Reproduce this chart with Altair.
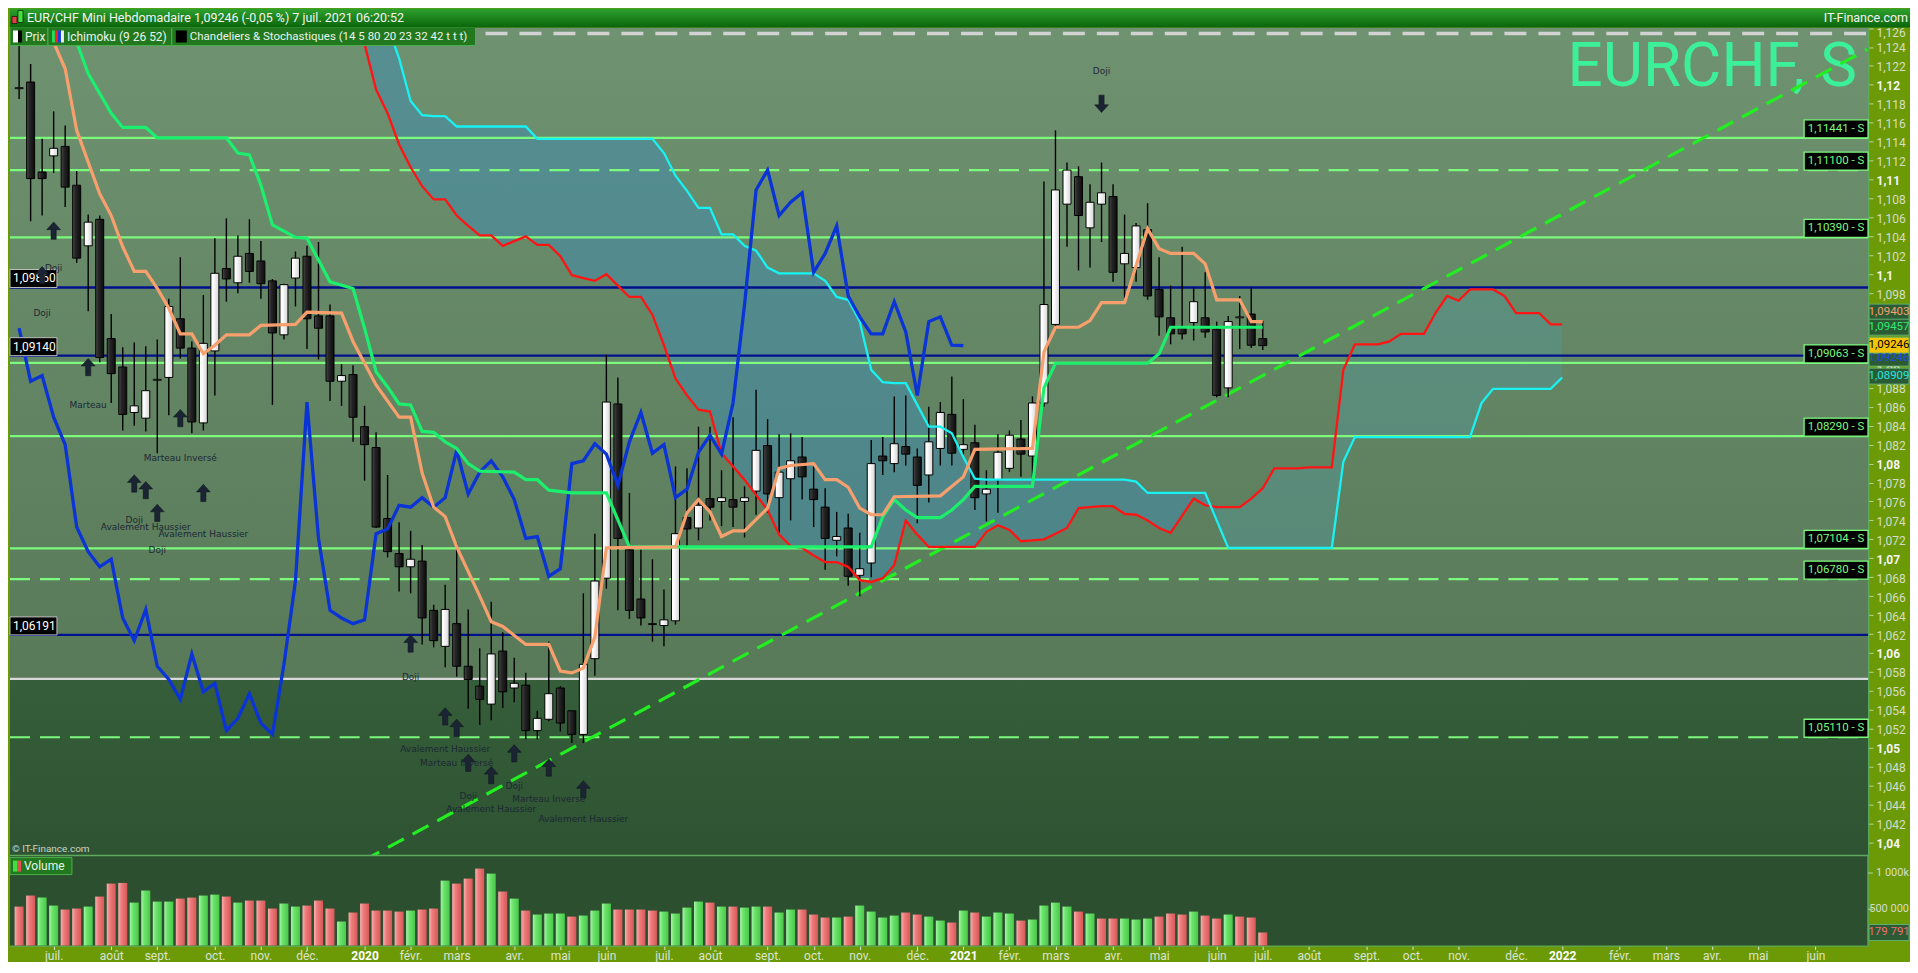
import altair as alt
import pandas as pd

# ------------------------------------------------------------------
# Values
# ------------------------------------------------------------------
START = pd.Timestamp("2019-06-10")          # Monday of the first weekly candle

opens = [1.1196,1.1203,1.1108,1.1125,1.1135,1.1094,1.1030,1.1058,1.0932,1.0902,
         1.0854,1.0848,1.0888,1.0891,1.0953,1.0922,1.0843,1.0919,1.1006,1.0991,
         1.1022,1.1014,1.0993,1.0936,1.0996,1.1019,1.0956,1.0956,1.0887,1.0894,
         1.0839,1.0817,1.0742,1.0705,1.0691,1.0697,1.0645,1.0607,1.0631,1.0586,
         1.0565,1.0546,1.0602,1.0563,1.0566,1.0518,1.0530,1.0563,1.0539,1.0514,
         1.0594,1.0679,1.0863,1.0709,1.0657,1.0630,1.0629,1.0634,1.0743,1.0732,
         1.0763,1.0760,1.0762,1.0760,1.0771,1.0819,1.0764,1.0784,1.0807,1.0773,
         1.0754,1.0719,1.0732,1.0682,1.0695,1.0808,1.0800,1.0818,1.0807,1.0788,
         1.0816,1.0852,1.0815,1.0822,1.0768,1.0783,1.0795,1.0826,1.0808,1.0864,
         1.0947,1.1074,1.1103,1.1049,1.1074,1.1082,1.1011,1.1007,1.1047,1.0984,
         1.0954,1.0943,1.0949,1.0954,1.0942,1.0880,1.0954,1.0958,1.0932]
highs = [1.1254,1.1222,1.1143,1.1172,1.1157,1.1109,1.1063,1.1062,1.0958,1.0923,
         1.0928,1.0924,1.0931,1.0974,1.1018,1.0929,1.0978,1.1038,1.1059,1.1041,
         1.1058,1.1035,1.0995,1.0990,1.1024,1.1030,1.1034,1.0968,1.0905,1.0904,
         1.0861,1.0833,1.0788,1.0738,1.0729,1.0714,1.0651,1.0672,1.0716,1.0646,
         1.0605,1.0654,1.0622,1.0595,1.0579,1.0539,1.0612,1.0565,1.0539,1.0663,
         1.0726,1.0915,1.0891,1.0769,1.0709,1.0699,1.0667,1.0797,1.0795,1.0839,
         1.0839,1.0793,1.0849,1.0776,1.0878,1.0847,1.0831,1.0832,1.0828,1.0797,
         1.0774,1.0749,1.0747,1.0727,1.0825,1.0828,1.0871,1.0872,1.0816,1.0860,
         1.0865,1.0892,1.0868,1.0841,1.0793,1.0831,1.0835,1.0846,1.0871,1.1098,
         1.1152,1.1118,1.1114,1.1095,1.1118,1.1095,1.1063,1.1054,1.1075,1.1018,
         1.0988,1.1029,1.0986,1.1002,1.0950,1.0956,1.0977,1.0986,1.0951]
lows = [1.1185,1.1056,1.1062,1.1107,1.1071,1.1012,1.0961,1.0907,1.0864,1.0835,
        1.0840,1.0834,1.0811,1.0851,1.0911,1.0832,1.0835,1.0872,1.0971,1.0980,
        1.0991,1.0974,1.0862,1.0931,1.0966,1.0921,1.0910,1.0866,1.0861,1.0823,
        1.0782,1.0732,1.0701,1.0665,1.0663,1.0609,1.0606,1.0585,1.0575,1.0541,
        1.0524,1.0529,1.0542,1.0548,1.0509,1.0509,1.0528,1.0517,1.0505,1.0505,
        1.0576,1.0668,1.0645,1.0636,1.0629,1.0612,1.0607,1.0630,1.0712,1.0719,
        1.0740,1.0734,1.0733,1.0722,1.0746,1.0748,1.0727,1.0740,1.0762,1.0733,
        1.0688,1.0702,1.0671,1.0660,1.0680,1.0788,1.0791,1.0798,1.0737,1.0759,
        1.0798,1.0798,1.0809,1.0751,1.0739,1.0748,1.0791,1.0786,1.0786,1.0860,
        1.0941,1.1029,1.1004,1.1007,1.1034,1.0992,1.0974,1.0992,1.0973,1.0935,
        1.0926,1.0931,1.0930,1.0933,1.0870,1.0870,1.0921,1.0922,1.0920]
closes = [1.1197,1.1101,1.1101,1.1133,1.1092,1.1017,1.1055,1.0912,1.0895,1.0852,
          1.0861,1.0877,1.0889,1.0966,1.0922,1.0844,1.0927,1.1001,1.0995,1.1019,
          1.1003,1.0990,1.0938,1.0989,1.1017,1.0953,1.0943,1.0887,1.0893,1.0849,
          1.0820,1.0733,1.0707,1.0691,1.0699,1.0637,1.0613,1.0646,1.0586,1.0572,
          1.0551,1.0599,1.0559,1.0568,1.0518,1.0531,1.0557,1.0526,1.0514,1.0588,
          1.0676,1.0865,1.0721,1.0645,1.0637,1.0631,1.0635,1.0726,1.0731,1.0756,
          1.0754,1.0764,1.0754,1.0764,1.0814,1.0768,1.0791,1.0803,1.0786,1.0762,
          1.0721,1.0723,1.0681,1.0689,1.0800,1.0803,1.0821,1.0810,1.0777,1.0823,
          1.0854,1.0811,1.0820,1.0764,1.0773,1.0812,1.0830,1.0810,1.0864,1.0968,
          1.1089,1.1110,1.1062,1.1076,1.1086,1.1002,1.1022,1.1051,1.0977,1.0955,
          1.0937,1.0937,1.0971,1.0939,1.0872,1.0950,1.0955,1.0925,1.09246]

volumes_k = [537,689,661,551,496,510,537,675,854,863,
             592,758,606,606,647,661,689,702,675,592,
             620,620,510,579,537,551,620,510,331,455,
             579,482,482,468,482,496,510,895,854,923,
             1061,992,744,647,482,427,441,441,399,413,
             482,579,496,496,496,482,468,441,523,606,
             592,537,537,523,537,537,455,496,496,427,
             386,386,399,551,468,386,413,455,427,399,
             344,317,482,455,399,455,441,344,358,551,
             592,537,468,441,372,372,372,358,372,399,
             441,427,468,413,372,427,399,386,179.791]
volume_side = ["r","r","g","g","r","r","g","r","r","r",
               "g","g","g","g","r","r","g","g","r","g",
               "r","r","r","g","g","r","r","r","g","r",
               "r","r","r","r","g","r","r","g","r","r",
               "r","g","r","g","r","g","g","g","r","g",
               "g","g","r","r","r","r","g","g","g","g",
               "r","g","r","g","g","r","g","g","r","r",
               "r","g","r","g","g","g","g","r","r","g",
               "g","r","g","r","g","g","g","r","g","g",
               "g","g","r","g","r","r","g","g","g","r",
               "r","r","g","r","r","g","r","r","r"]

# Ichimoku (week index, value)
tenkan = [(0,1.1330),(1,1.1300),(2,1.1270),(3,1.1245),(4,1.1217),(5,1.1152),(7,1.1085),(8,1.1062),
          (9,1.1029),(10,1.1003),(11,1.1003),(12,1.0985),(13,1.0964),(14,1.0937),(15,1.0937),(16,1.0916),
          (17,1.0925),(18,1.0936),(20,1.0936),(21,1.0946),(24,1.0947),(25,1.0960),(28,1.0959),(29,1.0929),
          (31,1.0883),(33,1.0849),(34,1.0849),(35,1.0790),(36,1.0754),(37,1.0744),(38,1.0712),(40,1.0660),
          (41,1.0633),(42,1.0628),(44,1.0609),(46,1.0609),(47,1.0581),(48,1.0579),(49,1.0584),(50,1.0617),
          (51,1.0711),(57,1.0712),(58,1.0748),(59,1.0762),(60,1.0749),(61,1.0723),(62,1.0729),(63,1.0729),
          (65,1.0753),(66,1.0795),(67,1.0798),(69,1.0800),(70,1.0783),(71,1.0783),(72,1.0775),(73,1.0753),
          (74,1.0746),(75,1.0746),(76,1.0765),(80,1.0766),(82,1.0786),(83,1.0815),(88,1.0816),(89,1.0918),
          (90,1.0944),(92,1.0944),(93,1.0951),(94,1.0970),(96,1.0970),(98,1.1048),(99,1.1027),(100,1.1022),
          (102,1.1022),(103,1.1011),(104,1.0973),(106,1.0973),(107,1.0950),(108,1.0950)]
kijun = [(0,1.1360),(3,1.1298),(4,1.1271),(5,1.1245),(6,1.1212),(8,1.1170),(9,1.1155),(11,1.1155),
         (12,1.1144),(18,1.1144),(19,1.1128),(20,1.1126),(21,1.1094),(22,1.1052),(24,1.1039),(25,1.1038),
         (27,1.0992),(29,1.0985),(30,1.0943),(31,1.0897),(32,1.0881),(33,1.0863),(34,1.0862),(35,1.0834),
         (36,1.0833),(37,1.0823),(38,1.0816),(39,1.0800),(40,1.0792),(43,1.0791),(44,1.0783),(45,1.0783),
         (46,1.0772),(48,1.0769),(51,1.0769),(53,1.0712),(74,1.0712),(75,1.0744),(76,1.0762),(77,1.0751),
         (78,1.0743),(80,1.0743),(81,1.0751),(82,1.0762),(83,1.0776),(88,1.0776),(89,1.0880),(90,1.0906),
         (98,1.0906),(99,1.0916),(100,1.0944),(108,1.0944)]
cloud_first = 28
senkou_a = [1.1300,1.1275,1.1243,1.1195,1.1170,1.1137,1.1113,1.1093,1.1079,1.1079,
            1.1062,1.1051,1.1041,1.1041,1.1030,1.1035,1.1040,1.1031,1.1031,1.1019,
            1.0999,1.0996,1.0993,1.1000,1.0988,1.0976,1.0976,1.0957,1.0925,1.0890,
            1.0872,1.0857,1.0855,1.0811,1.0797,1.0783,1.0767,1.0751,1.0725,1.0713,
            1.0711,1.0703,1.0696,1.0696,1.0691,1.0677,1.0675,1.0679,1.0693,1.0740,
            1.0725,1.0712,1.0712,1.0712,1.0712,1.0712,1.0728,1.0735,1.0730,1.0718,
            1.0719,1.0720,1.0726,1.0732,1.0753,1.0754,1.0755,1.0755,1.0747,1.0746,
            1.0740,1.0732,1.0727,1.0745,1.0763,1.0756,1.0754,1.0754,1.0754,1.0763,
            1.0774,1.0795,1.0795,1.0795,1.0796,1.0796,1.0796,1.0899,1.0926,1.0926,
            1.0926,1.0929,1.0937,1.0937,1.0937,1.0959,1.0977,1.0972,1.0984,1.0984,
            1.0984,1.0977,1.0959,1.0959,1.0959,1.0947,1.0947]
senkou_b = [1.1330,1.1310,1.1290,1.1272,1.1262,1.1228,1.1183,1.1168,1.1167,1.1167,
            1.1156,1.1156,1.1156,1.1156,1.1156,1.1156,1.1156,1.1143,1.1143,1.1143,
            1.1143,1.1143,1.1143,1.1143,1.1143,1.1143,1.1143,1.1143,1.1128,1.1104,
            1.1088,1.1070,1.1070,1.1042,1.1042,1.1030,1.1025,1.1007,1.1001,1.1001,
            1.1001,1.1001,1.0993,1.0976,1.0973,1.0950,1.0899,1.0886,1.0885,1.0885,
            1.0862,1.0839,1.0839,1.0832,1.0807,1.0784,1.0783,1.0783,1.0783,1.0783,
            1.0783,1.0783,1.0783,1.0783,1.0783,1.0783,1.0783,1.0783,1.0783,1.0781,
            1.0769,1.0769,1.0769,1.0769,1.0769,1.0769,1.0740,1.0711,1.0711,1.0711,
            1.0711,1.0711,1.0711,1.0711,1.0711,1.0711,1.0711,1.0802,1.0828,1.0828,
            1.0828,1.0828,1.0828,1.0828,1.0828,1.0828,1.0828,1.0828,1.0828,1.0864,
            1.0879,1.0879,1.0879,1.0879,1.0879,1.0879,1.0891]

support_levels = [1.11441, 1.11100, 1.10390, 1.09063, 1.08290, 1.07104, 1.06780, 1.05110]
support_dashed = [False, True, False, False, False, False, True, True]
blue_levels = [1.09860, 1.09140, 1.06191]
white_level = 1.05727
top_dash_level = 1.12543
trend_points = [(29.9, 1.03807), (160.5, 1.12374)]

arrows_up = [(3,1.1046),(2,1.0999),(6,1.0902),(14,1.0848),(10,1.0779),(11,1.0772),(12,1.0748),
             (16,1.0769),(34,1.0610),(37,1.0533),(38,1.0521),(39,1.0484),(41,1.0471),(43,1.0494),
             (46,1.0479),(49,1.0456)]
arrows_down = [(94,1.1180)]
pattern_labels = [(3,1.1007,"Doji"),(2,1.0959,"Doji"),(6,1.0862,"Marteau"),(14,1.0806,"Marteau Inversé"),
                  (10,1.0740,"Doji"),(11,1.0733,"Avalement Haussier"),(16,1.0726,"Avalement Haussier"),
                  (12,1.0709,"Doji"),(34,1.0575,"Doji"),(37,1.0499,"Avalement Haussier"),
                  (38,1.0484,"Marteau Inversé"),(43,1.0459,"Doji"),(39,1.0449,"Doji"),
                  (41,1.0435,"Avalement Haussier"),(46,1.0446,"Marteau Inversé"),
                  (49,1.0425,"Avalement Haussier"),(94,1.1215,"Doji")]

# current values shown on the price scale: (text, centre, text colour, fill)
last_values = [("1,09403", 1.0960, "#F4A06C", "#2C5A34"),
               ("1,09457", 1.09441, "#2EEA72", "#2C5A34"),
               ("1,09246", 1.09114, "#2050E0", "#2C5A34"),
               ("1,09246", 1.09251, "#000000", "#F5C400"),
               ("1,08909", 1.08924, "#22E6E6", "#2C5A34")]
last_volume = 179791

month_names = ["janv.", "févr.", "mars", "avr.", "mai", "juin",
               "juil.", "août", "sept.", "oct.", "nov.", "déc."]
month_ticks = [(2019,7,1),(2019,8,5),(2019,9,2),(2019,10,7),(2019,11,4),(2019,12,2),
               (2020,1,6),(2020,2,3),(2020,3,2),(2020,4,6),(2020,5,4),(2020,6,1),
               (2020,7,6),(2020,8,3),(2020,9,7),(2020,10,5),(2020,11,2),(2020,12,7),
               (2021,1,4),(2021,2,1),(2021,3,1),(2021,4,5),(2021,5,3),(2021,6,7),
               (2021,7,5),(2021,8,2),(2021,9,6),(2021,10,4),(2021,11,1),(2021,12,6),
               (2022,1,3),(2022,2,7),(2022,3,7),(2022,4,4),(2022,5,2),(2022,6,6)]
price_ticks = [round(1.040 + 0.002 * k, 3) for k in range(44)]

# ------------------------------------------------------------------
# Layout / style
# ------------------------------------------------------------------
W, HP, HV, FULLW = 1860, 829, 90, 1902
P_LO, P_HI = 1.0386, 1.12606
PXP = HP / (P_HI - P_LO)          # pixels per price unit
V_HI = 1240000
PXV = HV / V_HI

FONT = "Roboto"


def wd(i):
    return (START + pd.Timedelta(days=7.0 * i)).strftime("%Y-%m-%dT%H:%M:%S")


def fr5(v):
    return f"{v:.5f}".replace(".", ",")


xs = alt.Scale(domain=[alt.DateTime(year=2019, month=6, date=7, hours=12),
                       alt.DateTime(year=2022, month=7, date=4, hours=22)])
ys = alt.Scale(domain=[P_LO, P_HI], nice=False, zero=False)
vs = alt.Scale(domain=[0, V_HI], nice=False, zero=True)

bold_test = "abs(datum.value*100 - round(datum.value*100)) < 0.01"
hidden_test = "datum.value > 1.0915 && datum.value < 1.0965"   # covered by the value boxes
price_axis = alt.Axis(orient="right", values=price_ticks, title=None, grid=False,
                      labelExpr=f"({hidden_test}) ? '' : replace(format(datum.value, '.3~f'), '.', ',')",
                      labelFont=FONT, labelFontSize=12,
                      labelFontWeight={"condition": {"test": bold_test, "value": "bold"}, "value": "normal"},
                      labelColor={"condition": {"test": bold_test, "value": "#F4F4F4"}, "value": "#D6DCCB"},
                      labelOffset={"condition": {"test": "datum.value > 1.125", "value": 4}, "value": 1},
                      labelOverlap=False, labelPadding=3, tickSize=5, tickColor="#B5D39A",
                      domainColor="#5DAA5D", domainWidth=1.5)

month_js = "[" + ",".join("'" + m + "'" for m in month_names) + "]"
year_test = "month(datum.value) == 0"
x_axis = alt.Axis(values=[alt.DateTime(year=y, month=m, date=d) for (y, m, d) in month_ticks],
                  labelExpr=f"{year_test} ? timeFormat(datum.value, '%Y') : {month_js}[month(datum.value)]",
                  title=None, grid=False, labelFont=FONT, labelFontSize=12,
                  labelFontWeight={"condition": {"test": year_test, "value": "bold"}, "value": "normal"},
                  labelColor={"condition": {"test": year_test, "value": "#FFFFFF"}, "value": "#DCE3D2"},
                  labelOverlap=False, labelPadding=1, tickSize=4, tickColor="#DCE3D2",
                  domainColor="#5DAA5D", domainWidth=1.5, labelFlush=False)


def PX(f):
    return alt.X(f, type="temporal", scale=xs, axis=None, title=None)


def PY(f):
    return alt.Y(f, type="quantitative", scale=ys, axis=price_axis, title=None)


def VX(f):
    return alt.X(f, type="temporal", scale=xs, axis=x_axis, title=None)


def VY(f):
    return alt.Y(f, type="quantitative", scale=vs, axis=None, title=None)


ONE = pd.DataFrame({"k": [0]})


def pbox(x0, x1, y0, y1, **mk):
    return alt.Chart(ONE).mark_rect(**mk).encode(
        x=alt.value(x0), x2=alt.value(x1), y=alt.value(y0), y2=alt.value(y1))


def ptext(x, y, txt, **mk):
    return alt.Chart(ONE).mark_text(text=txt, **mk).encode(x=alt.value(x), y=alt.value(y))


def vgrad(c0, c1):
    return alt.LinearGradient(gradient="linear", x1=0, y1=0, x2=0, y2=1,
                              stops=[alt.GradientStop(color=c0, offset=0),
                                     alt.GradientStop(color=c1, offset=1)])


def hgrad(c0, c1, c2):
    return alt.LinearGradient(gradient="linear", x1=0, y1=0, x2=1, y2=0,
                              stops=[alt.GradientStop(color=c0, offset=0),
                                     alt.GradientStop(color=c1, offset=0.35),
                                     alt.GradientStop(color=c2, offset=1)])


# ------------------------------------------------------------------
# Tables
# ------------------------------------------------------------------
n = len(closes)
candles = pd.DataFrame({"d": [wd(i) for i in range(n)], "o": opens, "h": highs,
                        "l": lows, "c": closes})
up = candles[candles.c >= candles.o]
down = candles[candles.c < candles.o]

chikou = pd.DataFrame({"d": [wd(i) for i in range(n - 26)], "v": closes[26:]})
tk = pd.DataFrame({"d": [wd(i) for i, _ in tenkan], "v": [v for _, v in tenkan]})
kj = pd.DataFrame({"d": [wd(i) for i, _ in kijun], "v": [v for _, v in kijun]})
cidx = list(range(cloud_first, cloud_first + len(senkou_a)))
cloud = pd.DataFrame({"i": cidx, "d": [wd(i) for i in cidx], "a": senkou_a, "b": senkou_b})

sup = pd.DataFrame({"p": support_levels, "dash": support_dashed,
                    "lab": [fr5(v) + " - S" for v in support_levels]})
sup["top"] = sup.p + 18 / PXP
sup["mid"] = sup.p + 9 / PXP
blue = pd.DataFrame({"p": blue_levels, "lab": [fr5(v) for v in blue_levels]})
blue["top"] = blue.p + 18 / PXP
blue["mid"] = blue.p + 9 / PXP
lvl_white = pd.DataFrame({"p": [white_level]})
lvl_top = pd.DataFrame({"p": [top_dash_level]})
trend = pd.DataFrame({"d": [wd(i) for i, _ in trend_points], "v": [v for _, v in trend_points]})

arr_up = pd.DataFrame({"d": [wd(i) for i, _ in arrows_up], "v": [v for _, v in arrows_up]})
arr_dn = pd.DataFrame({"d": [wd(i) for i, _ in arrows_down], "v": [v for _, v in arrows_down]})
plab = pd.DataFrame({"d": [wd(i) for i, _, _ in pattern_labels],
                     "v": [v for _, v, _ in pattern_labels],
                     "t": [t for _, _, t in pattern_labels]})

lastv = pd.DataFrame({"t": [a for a, _, _, _ in last_values],
                      "c": [b for _, b, _, _ in last_values],
                      "tc": [c for _, _, c, _ in last_values],
                      "fill": [f for _, _, _, f in last_values]})
lastv["lo"] = lastv.c - 8 / PXP
lastv["hi"] = lastv.c + 8 / PXP

vol = pd.DataFrame({"d": [wd(i) for i in range(n)], "v": [k * 1000 for k in volumes_k],
                    "s": volume_side})
vol_lbl = pd.DataFrame({"v": [1000000, 500000], "t": ["1 000k", "500 000"]})
vol_last = pd.DataFrame({"v": [last_volume], "t": ["179 791"],
                         "lo": [last_volume - 8 / PXV], "hi": [last_volume + 8 / PXV]})

# ------------------------------------------------------------------
# Price pane
# ------------------------------------------------------------------
zone_hi = pd.DataFrame({"a": [P_HI], "b": [white_level]})
zone_lo = pd.DataFrame({"a": [white_level], "b": [P_LO]})

UP_ARROW = "M0,-1L0.8,-0.12L0.3,-0.12L0.3,1L-0.3,1L-0.3,-0.12L-0.8,-0.12Z"
DOWN_ARROW = "M0,1L0.8,0.12L0.3,0.12L0.3,-1L-0.3,-1L-0.3,0.12L-0.8,0.12Z"

layers = [
    alt.Chart(zone_hi).mark_rect(fill=vgrad("#6F9271", "#587A59")).encode(
        x=alt.value(0), x2=alt.value(W), y=PY("a"), y2=alt.Y2("b")),
    alt.Chart(zone_lo).mark_rect(fill=vgrad("#365E3A", "#2E5332")).encode(
        x=alt.value(0), x2=alt.value(W), y=PY("a"), y2=alt.Y2("b")),
    ptext(W - 11, 59, "EURCHF, S", font=FONT, fontSize=62, color="#3CF09A",
          align="right", baseline="alphabetic"),
    alt.Chart(cloud[cloud.i <= 104]).mark_area(clip=True, color="#3E8CB4", opacity=0.5).encode(
        x=PX("d"), y=PY("a"), y2=alt.Y2("b")),
    alt.Chart(cloud[cloud.i >= 104]).mark_area(clip=True, color="#559594", opacity=0.5).encode(
        x=PX("d"), y=PY("a"), y2=alt.Y2("b")),
    alt.Chart(lvl_white).mark_rule(color="#D8D8D8", strokeWidth=2.2).encode(
        y=PY("p"), x=alt.value(0), x2=alt.value(W)),
    alt.Chart(lvl_top).mark_rule(color="#D2D2D2", strokeWidth=3.5, strokeDash=[22, 12]).encode(
        y=PY("p"), x=alt.value(0), x2=alt.value(W)),
    alt.Chart(sup[~sup.dash]).mark_rule(color="#7CFA7C", strokeWidth=2.2).encode(
        y=PY("p"), x=alt.value(0), x2=alt.value(W)),
    alt.Chart(sup[sup.dash]).mark_rule(color="#7CFA7C", strokeWidth=2.2, strokeDash=[20, 10]).encode(
        y=PY("p"), x=alt.value(0), x2=alt.value(W)),
    alt.Chart(blue).mark_rule(color="#00118C", strokeWidth=2.4).encode(
        y=PY("p"), x=alt.value(0), x2=alt.value(W)),
    alt.Chart(trend).mark_line(clip=True, color="#22EE22", strokeWidth=3.2, strokeDash=[18, 10]).encode(
        x=PX("d"), y=PY("v")),
    # candles
    alt.Chart(candles).mark_rule(color="#000000", strokeWidth=1.4).encode(
        x=PX("d"), y=PY("l"), y2=alt.Y2("h")),
    alt.Chart(up).mark_bar(width=8, fill=hgrad("#FFFFFF", "#FAFAFA", "#D4D4D4"),
                           stroke="#000000", strokeWidth=1).encode(
        x=PX("d"), y=PY("o"), y2=alt.Y2("c")),
    alt.Chart(down).mark_bar(width=8, fill=hgrad("#4A4A4A", "#262626", "#0C0C0C"),
                             stroke="#000000", strokeWidth=1).encode(
        x=PX("d"), y=PY("o"), y2=alt.Y2("c")),
    # ichimoku
    alt.Chart(cloud).mark_line(clip=True, color="#FF1414", strokeWidth=2.3).encode(x=PX("d"), y=PY("a")),
    alt.Chart(cloud).mark_line(clip=True, color="#19F2F2", strokeWidth=2.3).encode(x=PX("d"), y=PY("b")),
    alt.Chart(chikou).mark_line(clip=True, color="#0A34D6", strokeWidth=3.3).encode(x=PX("d"), y=PY("v")),
    alt.Chart(kj).mark_line(clip=True, color="#1CEF6E", strokeWidth=3.2).encode(x=PX("d"), y=PY("v")),
    alt.Chart(tk).mark_line(clip=True, color="#F7A06E", strokeWidth=3.2).encode(x=PX("d"), y=PY("v")),
    # level boxes
    alt.Chart(sup).mark_rect(fill="#000000", stroke="#7CFA7C", strokeWidth=1.3).encode(
        x=alt.value(W - 64), x2=alt.value(W), y=PY("p"), y2=alt.Y2("top")),
    alt.Chart(sup).mark_text(font=FONT, fontSize=11.5, color="#7CFA7C", align="center",
                             baseline="middle").encode(x=alt.value(W - 32), y=PY("mid"), text="lab:N"),
    alt.Chart(blue).mark_rect(fill="#000000", stroke="#BDBDBD", strokeWidth=1).encode(
        x=alt.value(0), x2=alt.value(47), y=PY("p"), y2=alt.Y2("top")),
    alt.Chart(blue).mark_text(font=FONT, fontSize=12, color="#FFFFFF", align="left",
                              baseline="middle").encode(x=alt.value(3), y=PY("mid"), text="lab:N"),
    # pattern annotations
    alt.Chart(arr_up).mark_point(shape=UP_ARROW, size=300, filled=True, opacity=1,
                                 fill="#1A2432", stroke="#0E141C", strokeWidth=0.5).encode(
        x=PX("d"), y=PY("v")),
    alt.Chart(arr_dn).mark_point(shape=DOWN_ARROW, size=300, filled=True, opacity=1,
                                 fill="#1A2432", stroke="#0E141C", strokeWidth=0.5).encode(
        x=PX("d"), y=PY("v")),
    alt.Chart(plab).mark_text(font="DejaVu Sans", fontSize=9, color="#1C2834", align="center",
                              baseline="middle").encode(x=PX("d"), y=PY("v"), text="t:N"),
    # current values on the scale
    alt.Chart(lastv).mark_rect(stroke="#5FAF6F", strokeWidth=1).encode(
        x=alt.value(W + 1), x2=alt.value(FULLW - 1), y=PY("lo"), y2=alt.Y2("hi"),
        fill=alt.Fill("fill:N", scale=None)),
    alt.Chart(lastv).mark_text(font=FONT, fontSize=11.5, align="center", baseline="middle").encode(
        x=alt.value(W + 21), y=PY("c"), text="t:N", color=alt.Color("tc:N", scale=None)),
    # copyright
    ptext(2, HP - 7, "© IT-Finance.com", font=FONT, fontSize=10, color="#C9D6C9",
          align="left", baseline="middle"),
    # legend row
    pbox(0, 38, 0, 18, fill="#21781F", stroke="#4DB04D", strokeWidth=1),
    pbox(3, 8, 3, 15, fill="#FFFFFF"),
    pbox(8, 12, 3, 15, fill="#000000"),
    ptext(15, 9.5, "Prix", font=FONT, fontSize=12, color="#EAF4EA", align="left", baseline="middle"),
    pbox(38, 162, 0, 18, fill="#21781F", stroke="#4DB04D", strokeWidth=1),
    pbox(42, 45, 3, 15, fill="#22DD55"),
    pbox(45, 48, 3, 15, fill="#FF2020"),
    pbox(48, 51, 3, 15, fill="#1040E0"),
    pbox(51, 54, 3, 15, fill="#F0F0F0"),
    ptext(57, 9.5, "Ichimoku (9 26 52)", font=FONT, fontSize=12, color="#EAF4EA",
          align="left", baseline="middle"),
    pbox(162, 466, 0, 18, fill="#21781F", stroke="#4DB04D", strokeWidth=1),
    pbox(166, 177, 3, 15, fill="#000000"),
    ptext(180, 9.5, "Chandeliers & Stochastiques (14 5 80 20 23 32 42 t t t)", font=FONT,
          fontSize=11.5, color="#EAF4EA", align="left", baseline="middle"),
    # header bar
    pbox(0, FULLW, -19, 0, fill=vgrad("#2FA22F", "#0A640A")),
    pbox(2, 7, -11, -4, fill="#E04040", stroke="#000000", strokeWidth=0.6),
    pbox(8, 13, -17, -5, fill="#40E040", stroke="#000000", strokeWidth=0.6),
    ptext(17, -9.5, "EUR/CHF Mini Hebdomadaire 1,09246 (-0,05 %) 7 juil. 2021 06:20:52",
          font=FONT, fontSize=12.5, color="#F4F4F4", align="left", baseline="middle"),
    ptext(FULLW - 2, -9.5, "IT-Finance.com", font=FONT, fontSize=12.5, color="#F4F4F4",
          align="right", baseline="middle"),
]
price = alt.layer(*layers).properties(width=W, height=HP)

# ------------------------------------------------------------------
# Volume pane
# ------------------------------------------------------------------
vlayers = [
    pbox(0, W, 0, HV, fill="#2C4F2F"),
    alt.Chart(vol[vol.s == "g"]).mark_bar(width=9, fill=hgrad("#A6F5A6", "#6BE36B", "#49C849")).encode(
        x=VX("d"), y=VY("v")),
    alt.Chart(vol[vol.s == "r"]).mark_bar(width=9, fill=hgrad("#F8B0B0", "#EE7C7C", "#D85858")).encode(
        x=VX("d"), y=VY("v")),
    alt.Chart(ONE).mark_rule(color="#5DAA5D", strokeWidth=1.5).encode(
        x=alt.value(0), x2=alt.value(W), y=alt.value(0)),
    alt.Chart(ONE).mark_rule(color="#5DAA5D", strokeWidth=1.5).encode(
        x=alt.value(W), y=alt.value(0), y2=alt.value(HV)),
    alt.Chart(vol_lbl).mark_rule(color="#B5D39A", strokeWidth=1).encode(
        x=alt.value(W), x2=alt.value(W + 5), y=VY("v")),
    alt.Chart(vol_lbl).mark_text(font=FONT, fontSize=11, color="#D6DCCB", align="right",
                                 baseline="middle").encode(x=alt.value(FULLW - 1), y=VY("v"), text="t:N"),
    alt.Chart(vol_last).mark_rect(fill="#2C5A34", stroke="#5FAF6F", strokeWidth=1).encode(
        x=alt.value(W + 1), x2=alt.value(FULLW - 1), y=VY("lo"), y2=alt.Y2("hi")),
    alt.Chart(vol_last).mark_text(font=FONT, fontSize=11.5, color="#F07070", align="center",
                                  baseline="middle").encode(x=alt.value(W + 21), y=VY("v"), text="t:N"),
    pbox(0, 62, 2, 19, fill="#21781F", stroke="#4DB04D", strokeWidth=1),
    pbox(3, 7, 5, 16, fill="#40E040"),
    pbox(7, 11, 5, 16, fill="#E05050"),
    ptext(14, 10.5, "Volume", font=FONT, fontSize=12, color="#EAF4EA", align="left", baseline="middle"),
]
volume = alt.layer(*vlayers).properties(width=W, height=HV)

chart = (
    alt.vconcat(price, volume, spacing=0, bounds="flush")
    .resolve_scale(x="shared", y="independent")
    .properties(padding=0)
    .configure(background="#6B9A06")
    .configure_view(strokeWidth=0)
)

chart.save("out.html", embed_options={"renderer": "svg", "actions": False})
